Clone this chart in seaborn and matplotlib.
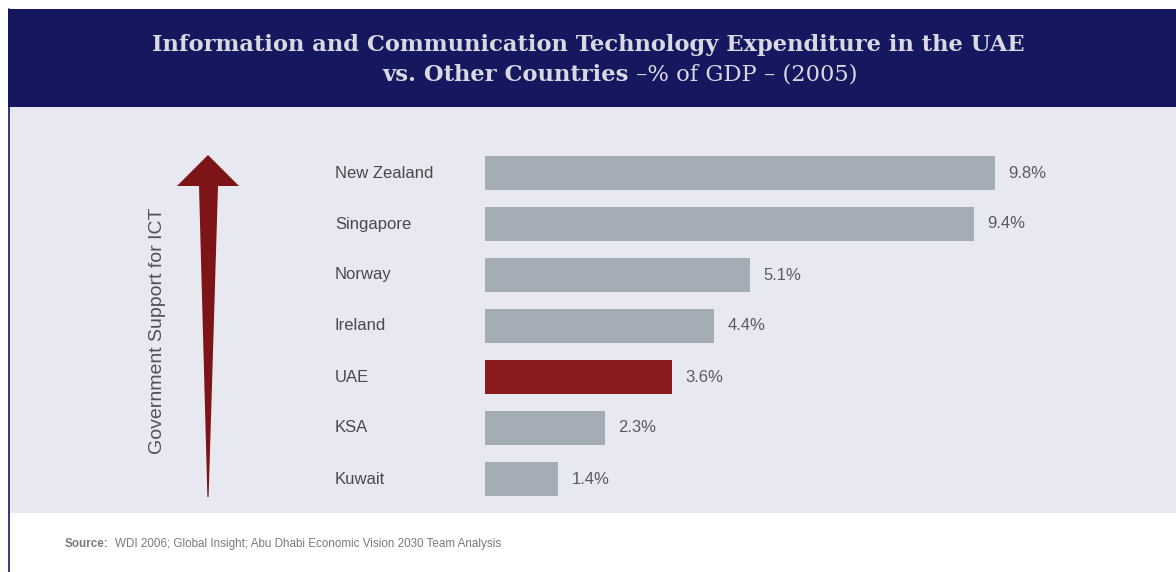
import matplotlib
matplotlib.use("Agg")
import matplotlib.pyplot as plt
import matplotlib.transforms as mtransforms
import seaborn as sns
import pandas as pd
from matplotlib.patches import Rectangle, Polygon

sns.set_theme(style="white")
plt.rcParams["font.family"] = ["Liberation Sans", "DejaVu Sans"]

# data
countries = ["New Zealand", "Singapore", "Norway", "Ireland", "UAE", "KSA", "Kuwait"]
ict_pct = [9.8, 9.4, 5.1, 4.4, 3.6, 2.3, 1.4]
labels = ["9.8%", "9.4%", "5.1%", "4.4%", "3.6%", "2.3%", "1.4%"]
highlight = "UAE"

df = pd.DataFrame({"country": countries, "pct": ict_pct})

W, H = 1176, 572
fig = plt.figure(figsize=(W / 100, H / 100), dpi=100)
fig.patch.set_facecolor("white")

def fx(px):
    return px / W

def fy(py):
    return 1 - py / H

# background blocks
fig.patches.append(Rectangle((fx(8), fy(513)), fx(1176 - 8), (513 - 107) / H,
                             transform=fig.transFigure, facecolor="#e8e9f0", edgecolor="none", zorder=-2))
fig.patches.append(Rectangle((fx(8), fy(107)), fx(1176 - 8), (107 - 9) / H,
                             transform=fig.transFigure, facecolor="#15175f", edgecolor="none", zorder=-2))
fig.lines.append(plt.Line2D([fx(8.5), fx(8.5)], [fy(9), 0], transform=fig.transFigure,
                            color="#15175f", lw=1.2, zorder=-1))

# title
tcol = "#d9d9e3"
fig.text(fx(588), fy(45), "Information and Communication Technology Expenditure in the UAE",
         ha="center", va="center", family=["DejaVu Serif"], fontweight="bold",
         fontsize=16.3, color=tcol)
renderer = fig.canvas.get_renderer()
t1 = fig.text(0, fy(75), "vs. Other Countries ", ha="left", va="center", family=["DejaVu Serif"],
              fontweight="bold", fontsize=16.3, color=tcol)
t2 = fig.text(0, fy(75), "\u2013% of GDP \u2013 (2005)", ha="left", va="center",
              family=["DejaVu Serif"], fontsize=16.3, color=tcol)
w1 = t1.get_window_extent(renderer).width
w2 = t2.get_window_extent(renderer).width
x0 = 620 - (w1 + w2) / 2
t1.set_x(fx(x0))
t2.set_x(fx(x0 + w1))

# bars
ax = fig.add_axes([fx(485), fy(504.5), fx(624), 357 / H])
colors = ["#8b1a1d" if c == highlight else "#a4adb6" for c in countries]
sns.barplot(data=df, x="pct", y="country", hue="country", palette=colors, legend=False,
            width=0.65, saturation=1, linewidth=0, ax=ax, orient="h")
ax.set_xlim(0, 12)
ax.set_ylim(6.5, -0.5)
ax.set_facecolor("none")
for s in ax.spines.values():
    s.set_visible(False)
ax.set_xticks([])
ax.set_yticks([])
ax.set_xlabel("")
ax.set_ylabel("")
blend = mtransforms.blended_transform_factory(fig.transFigure, ax.transData)
for i, (v, lab) in enumerate(zip(ict_pct, labels)):
    ax.text(v + 0.26, i, lab, va="center", ha="left", fontsize=12, color="#5a5a60")
    ax.text(fx(335), i, countries[i], transform=blend, va="center", ha="left",
            fontsize=12, color="#48484e", clip_on=False)

# arrow
arrow = Polygon([(fx(208), fy(155)), (fx(239), fy(186)), (fx(218), fy(186)),
                 (fx(208.6), fy(497)), (fx(207.4), fy(497)), (fx(199), fy(186)),
                 (fx(177), fy(186))], closed=True, transform=fig.transFigure,
                facecolor="#7d1518", edgecolor="none", zorder=2)
fig.patches.append(arrow)
fig.text(fx(158), fy(331), "Government Support for ICT", rotation=90, ha="center", va="center",
         fontsize=14, color="#505058")

# source
s1 = fig.text(fx(65), fy(544), "Source:", ha="left", va="center", fontweight="bold",
              fontsize=8.4, color="#7a7a80")
ws = s1.get_window_extent(renderer).width
fig.text(fx(65 + ws + 6), fy(544), "WDI 2006; Global Insight; Abu Dhabi Economic Vision 2030 Team Analysis",
         ha="left", va="center", fontsize=8.4, color="#7a7a80")

fig.savefig("out.png", dpi=100, facecolor="white")
